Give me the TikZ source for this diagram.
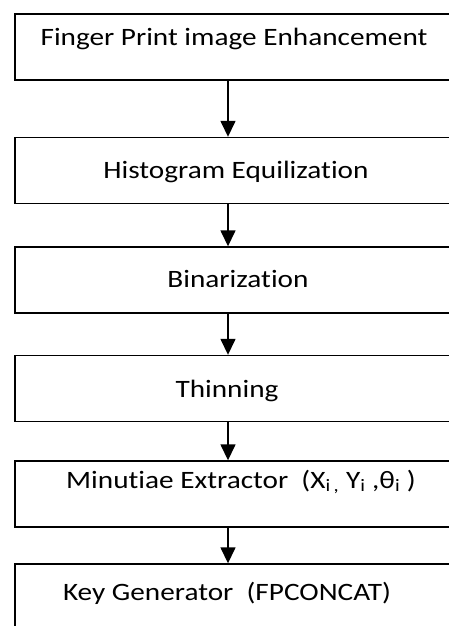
\documentclass[tikz,border=0pt]{standalone}
\usepackage{fontspec}
\setmainfont{Carlito}[Ligatures=NoCommon]
\usetikzlibrary{arrows.meta}
\newcommand{\widetext}[1]{\scalebox{1.17}[1]{#1}}
\begin{document}
\begin{tikzpicture}[x=1pt,y=-1pt,
  box/.style={draw=black,line width=1.4pt,fill=white,minimum width=440pt,minimum height=66pt,inner sep=0pt},
  txt/.style={font=\fontsize{25}{30}\selectfont,inner sep=0pt,anchor=base},
  flow/.style={line width=1.5pt,-{Triangle[width=15pt,length=16pt]}}]
\useasboundingbox[fill=white] (0,0) rectangle (449,626);
\node[box] (b1) at (235,47) {};
\node[box] (b2) at (235,170.5) {};
\node[box] (b3) at (235,280) {};
\node[box] (b4) at (235,388.5) {};
\node[box] (b5) at (235,494) {};
\node[box] (b6) at (235,597) {};
\node[txt] (t1) at (234,45.5) {\widetext{Finger Print image Enhancement}};
\node[txt] (t2) at (236,178) {\widetext{Histogram Equilization}};
\node[txt] (t3) at (238,287) {\widetext{Binarization}};
\node[txt] (t4) at (227,397) {\widetext{Thinning}};
\node[txt] (t5) at (241,488) {\widetext{Minutiae Extractor\ \ (X\textsubscript{i\,,} Y\textsubscript{i} ,θ\textsubscript{i} )}};
\node[txt] (t6) at (227,600) {\widetext{Key Generator\ \ (FPCONCAT)}};
\foreach \a/\b in {b1/b2,b2/b3,b3/b4,b4/b5,b5/b6}{
  \draw[flow] (\a.south -| 228,0) -- (\b.north -| 228,0);
}
\end{tikzpicture}
\end{document}
